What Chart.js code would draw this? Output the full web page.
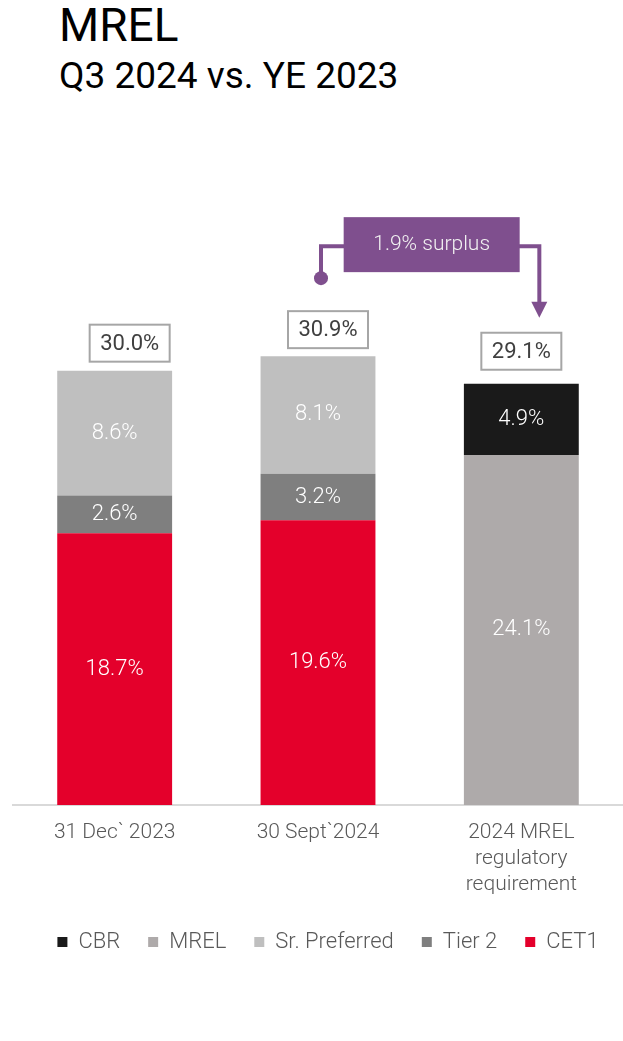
<!DOCTYPE html>
<html>
<head>
<meta charset="utf-8">
<script src="https://cdn.jsdelivr.net/npm/chart.js@4.4.1/dist/chart.umd.min.js"></script>
<style>
  html, body { margin: 0; padding: 0; background: #fff; }
  body { width: 623px; height: 1041px; position: relative; overflow: hidden; font-family: Roboto, sans-serif; }
  .title { position: absolute; left: 59px; top: -2px; font-size: 46px; line-height: 54px; color: #000; }
  .subtitle { position: absolute; left: 59px; top: 54px; font-size: 37px; line-height: 44px; color: #000; }
  .chart-box { position: absolute; left: 0; top: 0; width: 623px; height: 1041px; }
</style>
</head>
<body>
<div class="title">MREL</div>
<div class="subtitle">Q3 2024 vs. YE 2023</div>
<div class="chart-box"><canvas id="chart"></canvas></div>
<script>
// chart data
var categories = ['31 Dec` 2023', '30 Sept`2024', ['2024 MREL', 'regulatory', 'requirement']];
var cet1 = [18.7, 19.6, null];
var tier2 = [2.6, 3.2, null];
var srPreferred = [8.6, 8.1, null];
var mrel = [null, null, 24.1];
var cbr = [null, null, 4.9];
var totals = [30.0, 30.9, 29.1];
var surplusText = '1.9% surplus';

var FONT = 'Roboto';
var PURPLE = '#7F4F8E';

// top pixel of the stacked bar at index j
function stackTop(chart, j) {
  var top = null;
  chart.data.datasets.forEach(function(ds, i) {
    if (ds.data[j] == null) return;
    var bar = chart.getDatasetMeta(i).data[j];
    if (top === null || bar.y < top) top = bar.y;
  });
  return top;
}

// white value labels inside each segment
var segmentLabels = {
  id: 'segmentLabels',
  afterDatasetsDraw: function(chart) {
    var ctx = chart.ctx;
    ctx.save();
    ctx.font = '300 22px ' + FONT;
    ctx.fillStyle = '#ffffff';
    ctx.textAlign = 'center';
    ctx.textBaseline = 'middle';
    chart.data.datasets.forEach(function(ds, i) {
      chart.getDatasetMeta(i).data.forEach(function(bar, j) {
        var v = ds.data[j];
        if (v == null) return;
        ctx.fillText(v.toFixed(1) + '%', bar.x, (bar.y + bar.base) / 2);
      });
    });
    ctx.restore();
  }
};

// boxed totals above the bars
var totalShift = [15, 10, 0];
var totalGap = [9, 8, 14];
var totalBoxes = {
  id: 'totalBoxes',
  afterDatasetsDraw: function(chart) {
    var ctx = chart.ctx;
    var w = 80, h = 37;
    ctx.save();
    totals.forEach(function(t, j) {
      var cx = chart.scales.x.getPixelForValue(j) + totalShift[j];
      var bottom = stackTop(chart, j) - totalGap[j];
      ctx.fillStyle = '#ffffff';
      ctx.fillRect(cx - w / 2, bottom - h, w, h);
      ctx.lineWidth = 2;
      ctx.strokeStyle = '#A6A6A6';
      ctx.strokeRect(cx - w / 2, bottom - h, w, h);
      ctx.font = '400 22px ' + FONT;
      ctx.fillStyle = '#404040';
      ctx.textAlign = 'center';
      ctx.textBaseline = 'middle';
      ctx.fillText(t.toFixed(1) + '%', cx, bottom - h / 2 + 1);
    });
    ctx.restore();
  }
};

// "1.9% surplus" callout between bar 2 and bar 3
var surplusNote = {
  id: 'surplusNote',
  afterDraw: function(chart) {
    var ctx = chart.ctx;
    var x2 = chart.scales.x.getPixelForValue(1);
    var x3 = chart.scales.x.getPixelForValue(2);
    var top2 = stackTop(chart, 1);
    var top3 = stackTop(chart, 2);
    var fromX = x2 + 3;
    var toX = x3 + 18;
    var lineY = top2 - 110;
    var dotY = top2 - 78;
    var tipY = top3 - 66;
    var boxW = 176, boxH = 55;
    var boxCx = (x2 + x3) / 2 + 12;
    var boxTop = top2 - 139;

    ctx.save();
    ctx.strokeStyle = PURPLE;
    ctx.fillStyle = PURPLE;
    ctx.lineWidth = 4;
    ctx.beginPath();
    ctx.moveTo(fromX, dotY);
    ctx.lineTo(fromX, lineY);
    ctx.lineTo(toX, lineY);
    ctx.lineTo(toX, tipY - 14);
    ctx.stroke();

    ctx.beginPath();
    ctx.arc(fromX, dotY, 7, 0, Math.PI * 2);
    ctx.fill();

    ctx.beginPath();
    ctx.moveTo(toX - 8, tipY - 16);
    ctx.lineTo(toX + 8, tipY - 16);
    ctx.lineTo(toX, tipY);
    ctx.closePath();
    ctx.fill();

    ctx.fillRect(boxCx - boxW / 2, boxTop, boxW, boxH);
    ctx.font = '300 21px ' + FONT;
    ctx.fillStyle = '#F2F2F2';
    ctx.textAlign = 'center';
    ctx.textBaseline = 'middle';
    ctx.fillText(surplusText, boxCx, boxTop + boxH / 2);
    ctx.restore();
  }
};

// nudge the legend row a little to the right, as in the original slide
var legendNudge = {
  id: 'legendNudge',
  afterLayout: function(chart) {
    if (chart.legend) {
      chart.legend.left += 10;
      chart.legend.right += 10;
    }
  }
};

var datasets = [
  { label: 'CET1', data: cet1, backgroundColor: '#E4002B' },
  { label: 'Tier 2', data: tier2, backgroundColor: '#7F7F7F' },
  { label: 'Sr. Preferred', data: srPreferred, backgroundColor: '#BFBFBF' },
  { label: 'MREL', data: mrel, backgroundColor: '#AEAAAA' },
  { label: 'CBR', data: cbr, backgroundColor: '#1A1A1A' }
];
datasets.forEach(function(ds) {
  ds.categoryPercentage = 1;
  ds.barPercentage = 0.565;
  ds.borderWidth = 0;
});

new Chart(document.getElementById('chart'), {
  type: 'bar',
  data: { labels: categories, datasets: datasets },
  plugins: [segmentLabels, totalBoxes, surplusNote, legendNudge],
  options: {
    responsive: true,
    maintainAspectRatio: false,
    animation: false,
    layout: { padding: { top: 224, left: 13, right: 0, bottom: 78 } },
    plugins: {
      tooltip: { enabled: false },
      legend: {
        position: 'bottom',
        reverse: true,
        labels: {
          boxWidth: 10,
          boxHeight: 10,
          padding: 28,
          color: '#595959',
          font: { family: FONT, size: 22, weight: '300' }
        }
      }
    },
    scales: {
      x: {
        stacked: true,
        grid: { display: false, drawTicks: false },
        border: { display: true, color: '#D9D9D9', width: 2 },
        afterFit: function(scale) { scale.height -= 10; },
        ticks: {
          padding: 15,
          color: '#595959',
          maxRotation: 0,
          autoSkip: false,
          font: { family: FONT, size: 21, weight: '300', lineHeight: 1.24 }
        }
      },
      y: {
        stacked: true,
        display: false,
        min: 0,
        max: 40
      }
    }
  }
});
</script>
</body>
</html>
